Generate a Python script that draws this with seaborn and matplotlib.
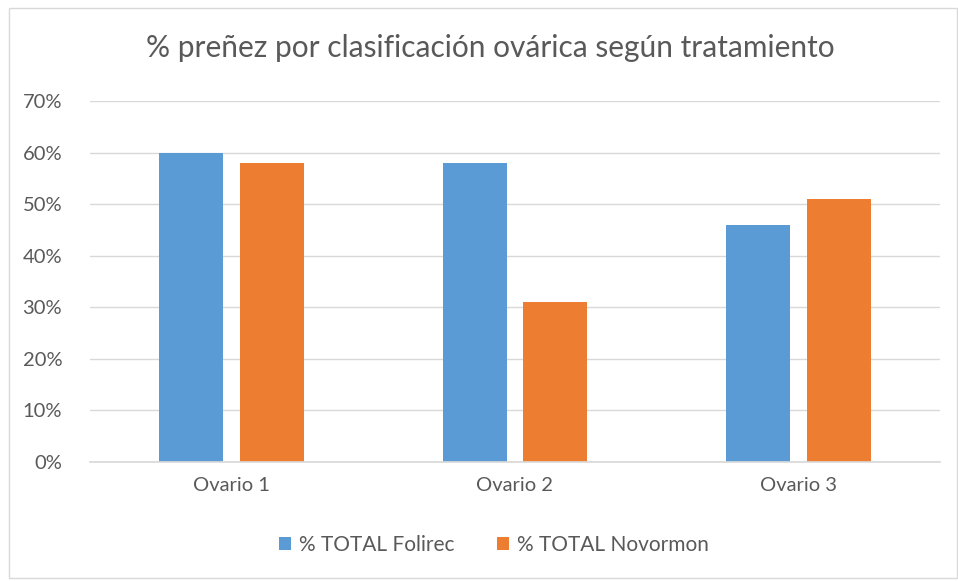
import matplotlib
matplotlib.use("Agg")
import matplotlib.pyplot as plt
import seaborn as sns
import pandas as pd
from matplotlib.patches import Rectangle

categories = ["Ovario 1", "Ovario 2", "Ovario 3"]
series_names = ["% TOTAL Folirec", "% TOTAL Novormon"]
folirec = [60, 58, 46]
novormon = [58, 31, 51]
yticks = [0, 10, 20, 30, 40, 50, 60, 70]
colors = ["#5B9BD5", "#ED7D31"]

df = pd.DataFrame({
    "cat": categories * 2,
    "serie": [series_names[0]] * 3 + [series_names[1]] * 3,
    "val": folirec + novormon,
})

sns.set_theme(style="white")
plt.rcParams['font.family'] = ['Lato', 'DejaVu Sans']
txt = "#595959"

fig = plt.figure(figsize=(9.58, 5.81), dpi=100)
fig.patches.append(Rectangle((9/958, 1 - 578/581), 948/958, 570/581, transform=fig.transFigure,
                             fill=False, edgecolor="#d9d9d9", linewidth=1))
ax = fig.add_axes([90/958, 1 - 462/581, 850/958, (462 - 101)/581])
sns.barplot(data=df, x="cat", y="val", hue="serie", palette=colors, width=0.571, gap=0.21,
            ax=ax, saturation=1, legend=True, linewidth=0)
ax.set_xlim(-0.5, 2.5)
ax.set_ylim(0, 70)
ax.set_yticks(yticks)
ax.set_yticklabels([f"{v}%" for v in yticks])
ax.yaxis.grid(True, color="#d9d9d9", linewidth=1)
ax.set_axisbelow(True)
for s in ["left", "right", "top"]:
    ax.spines[s].set_visible(False)
ax.spines["bottom"].set_color("#d9d9d9")
ax.tick_params(axis="both", length=0, labelsize=14.5, colors=txt)
ax.tick_params(axis="x", pad=11)
ax.tick_params(axis="y", pad=20)
ax.set_xlabel("")
ax.set_ylabel("")
fig.text(490/958, 1 - 48/581, "% preñez por clasificación ovárica según tratamiento",
         ha="center", va="center", fontsize=21.5, color=txt)
leg = ax.legend(loc="center", bbox_to_anchor=(494/958, 1 - 545/581), bbox_transform=fig.transFigure,
                ncol=2, frameon=False, fontsize=15, handlelength=0.6, handleheight=0.6,
                columnspacing=2.0, handletextpad=0.4)
for t in leg.get_texts():
    t.set_color(txt)
fig.savefig("out.png", dpi=100)
